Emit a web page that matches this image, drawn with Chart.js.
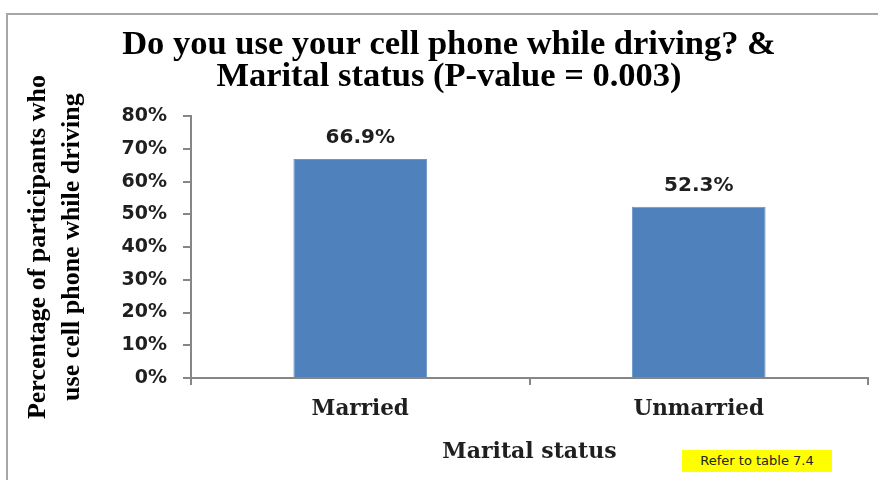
<!DOCTYPE html>
<html lang="en">
<head>
    <meta charset="UTF-8">
    <title>Cell phone use while driving & marital status</title>
    <script src="https://cdn.jsdelivr.net/npm/chart.js"></script>
    <style>
        html, body { margin: 0; padding: 0; background: #fff; overflow: hidden; }
        #wrap { position: relative; width: 878px; height: 480px; }
        #frame {
            position: absolute; left: 6px; top: 13px; right: -10px; bottom: -10px;
            border: 2px solid #a6a6a6;
        }
        #note {
            position: absolute; left: 682px; top: 450px; width: 150px; height: 22px;
            background: #ffff00; color: #222;
            font: 13px "DejaVu Sans", sans-serif; line-height: 22px; text-align: center;
        }
        canvas { position: absolute; left: 0; top: 0; }
    </style>
</head>
<body>
    <div id="wrap">
        <div id="frame"></div>
        <canvas id="chart" width="878" height="480"></canvas>
        <div id="note">Refer to table 7.4</div>
    </div>

    <script>
        const categories = ["Married", "Unmarried"];
        const percentages = [66.9, 52.3];
        const yTicks = [0, 10, 20, 30, 40, 50, 60, 70, 80];

        const titleLines = ["Do you use your cell phone while driving? &", "Marital status (P-value = 0.003)"];
        const yTitleLines = ["Percentage of participants who", "use cell phone while driving"];

        // value labels above the bars
        const barLabels = {
            id: "barLabels",
            afterDatasetsDraw(chart) {
                const ctx = chart.ctx;
                ctx.save();
                ctx.font = "bold 20px 'DejaVu Sans', sans-serif";
                ctx.fillStyle = "#1f1f1f";
                ctx.textAlign = "center";
                ctx.textBaseline = "middle";
                chart.getDatasetMeta(0).data.forEach((bar, i) => {
                    ctx.fillText(percentages[i].toFixed(1) + "%", bar.x, bar.y - 21);
                });
                ctx.restore();
            }
        };

        new Chart(document.getElementById("chart"), {
            type: "bar",
            data: {
                labels: categories,
                datasets: [{
                    data: percentages,
                    backgroundColor: "#4f81bd",
                    borderColor: "#6a95c8",
                    borderWidth: 1,
                    categoryPercentage: 1,
                    barPercentage: 0.395
                }]
            },
            options: {
                responsive: false,
                animation: false,
                // left padding pushes the title centre right, y axis width makes up for it
                layout: { padding: { left: 30, right: 10, top: 0, bottom: 0 } },
                plugins: {
                    legend: { display: false },
                    tooltip: { enabled: false },
                    title: {
                        display: true,
                        text: titleLines,
                        color: "#000",
                        font: { family: "'Liberation Serif', serif", size: 34.5, weight: "bold", lineHeight: 0.93 },
                        padding: { top: 29, bottom: 23 }
                    }
                },
                scales: {
                    x: {
                        afterFit: (scale) => { scale.height = 102; },
                        grid: { drawOnChartArea: false, drawTicks: true, tickLength: 7, color: "#868686", lineWidth: 2 },
                        border: { color: "#868686", width: 2 },
                        ticks: {
                            color: "#1f1f1f",
                            padding: 12,
                            font: { family: "'DejaVu Serif', serif", size: 21.5, weight: "bold" }
                        },
                        title: {
                            display: true,
                            text: "Marital status",
                            color: "#1f1f1f",
                            font: { family: "'DejaVu Serif', serif", size: 22, weight: "bold", lineHeight: 1.2 },
                            padding: { top: 0, bottom: 15 }
                        }
                    },
                    y: {
                        min: 0,
                        max: 80,
                        afterFit: (scale) => { scale.width = 161; },
                        afterBuildTicks: (scale) => { scale.ticks = yTicks.map(v => ({ value: v })); },
                        grid: { drawOnChartArea: false, drawTicks: true, tickLength: 8, color: "#868686", lineWidth: 2 },
                        border: { color: "#868686", width: 2 },
                        ticks: {
                            color: "#1f1f1f",
                            padding: 16,
                            callback: (v) => v + "%",
                            font: { family: "'DejaVu Sans', sans-serif", size: 19, weight: "bold" }
                        },
                        title: {
                            display: true,
                            text: yTitleLines,
                            color: "#000",
                            font: { family: "'Liberation Serif', serif", size: 26, weight: "bold", lineHeight: 1.31 },
                            padding: { top: -9, bottom: 0 }
                        }
                    }
                }
            },
            plugins: [barLabels]
        });
    </script>
</body>
</html>
